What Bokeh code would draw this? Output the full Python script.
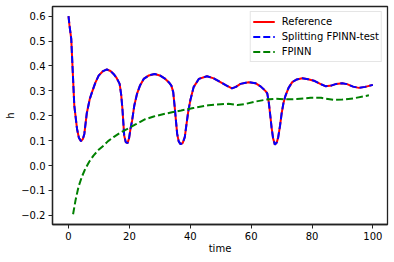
from bokeh.plotting import figure
from bokeh.models import FixedTicker, Range1d
from bokeh.embed import file_html
from bokeh.resources import INLINE

# ---- data ----
t_ref = [0, 0.3, 0.9, 1.4, 1.9, 2.8, 3.4, 4.1, 4.7, 5.2, 6.0, 7.0, 7.7, 8.8, 9.9,
         11.2, 12.6, 13.8, 14.8, 15.8, 16.8, 17.3, 17.7, 18.3, 18.8, 19.4, 19.9,
         20.4, 20.9, 21.6, 22.5, 23.5, 24.7, 26.4, 28.3, 30.0, 31.8, 33.0, 33.8,
         34.4, 34.9, 35.3, 35.7, 36.2, 36.8, 37.5, 38.2, 38.7, 39.3, 40.0, 41.1,
         42.8, 45.5, 47.7, 49.9, 51.8, 53.7, 55.0, 56.5, 59.2, 61.4, 63.1, 64.6,
         65.3, 65.8, 66.3, 66.7, 67.2, 67.8, 68.4, 68.9, 69.5, 70.0, 70.6, 71.3,
         72.3, 73.5, 75.0, 76.8, 78.7, 80.6, 82.7, 84.4, 86.5, 88.0, 89.9, 91.5,
         93.5, 95.4, 97.5, 100]
h_ref = [0.600, 0.565, 0.509, 0.375, 0.241, 0.147, 0.112, 0.098, 0.106, 0.127,
         0.210, 0.268, 0.294, 0.332, 0.361, 0.378, 0.386, 0.380, 0.368, 0.352,
         0.328, 0.285, 0.230, 0.120, 0.094, 0.090, 0.110, 0.150, 0.181, 0.240,
         0.288, 0.322, 0.348, 0.362, 0.368, 0.362, 0.348, 0.334, 0.321, 0.295,
         0.234, 0.180, 0.127, 0.097, 0.086, 0.090, 0.114, 0.160, 0.214, 0.261,
         0.315, 0.348, 0.359, 0.350, 0.335, 0.322, 0.310, 0.316, 0.328, 0.335,
         0.331, 0.318, 0.301, 0.290, 0.254, 0.200, 0.154, 0.110, 0.084, 0.092,
         0.114, 0.160, 0.208, 0.250, 0.281, 0.312, 0.335, 0.346, 0.351, 0.347,
         0.341, 0.328, 0.319, 0.322, 0.328, 0.331, 0.327, 0.317, 0.312, 0.316,
         0.324]
t_split = list(t_ref)
h_split = list(h_ref)

t_fpinn = [1.5, 2.3, 3.3, 4.4, 5.5, 6.8, 8.2, 9.8, 11.5, 13.0, 14.8, 17.0, 19.2,
           22.0, 25.2, 28.0, 31.0, 34.0, 37.0, 41.0, 46.0, 50.0, 52.5, 55.5, 58.0,
           61.4, 65.0, 68.0, 72.0, 75.0, 79.5, 83.0, 87.0, 90.0, 93.7, 98.7]
h_fpinn = [-0.196, -0.140, -0.085, -0.045, -0.013, 0.015, 0.040, 0.062, 0.080,
           0.098, 0.114, 0.132, 0.146, 0.165, 0.186, 0.197, 0.206, 0.214, 0.221,
           0.231, 0.242, 0.246, 0.248, 0.243, 0.247, 0.257, 0.265, 0.268, 0.266,
           0.267, 0.272, 0.272, 0.264, 0.265, 0.270, 0.282]

x_ticks = [0, 20, 40, 60, 80, 100]
y_ticks = [-0.2, -0.1, 0.0, 0.1, 0.2, 0.3, 0.4, 0.5, 0.6]
y_tick_labels = ["\u22120.2", "\u22120.1", "0.0", "0.1", "0.2", "0.3", "0.4", "0.5", "0.6"]

FONT = "DejaVu Sans"

p = figure(width=394, height=262, output_backend="svg", toolbar_location=None,
           x_range=Range1d(-5.26, 104.8), y_range=Range1d(-0.237, 0.639))
p.min_border_left = 52
p.min_border_right = 7
p.min_border_top = 6
p.min_border_bottom = 38
p.outline_line_color = "#222222"
p.outline_line_width = 1.3
p.outline_line_alpha = 1
p.xgrid.visible = False
p.ygrid.visible = False
p.background_fill_color = "white"
p.border_fill_color = "white"

p.line(t_ref, h_ref, line_color="#ff0000", line_width=2, legend_label="Reference")
p.line(t_split, h_split, line_color="#0000ff", line_width=2, line_dash="7 3",
       legend_label="Splitting FPINN-test")
p.line(t_fpinn, h_fpinn, line_color="#008000", line_width=2, line_dash="7 3",
       legend_label="FPINN")

for ax in (p.xaxis[0], p.yaxis[0]):
    ax.major_tick_out = 4
    ax.major_tick_in = 0
    ax.minor_tick_out = 0
    ax.minor_tick_in = 0
    ax.axis_line_color = "#222222"
    ax.axis_line_width = 1.3
    ax.major_tick_line_color = "#222222"
    ax.major_tick_line_width = 1
    ax.major_label_text_font = FONT
    ax.major_label_text_font_size = "10px"
    ax.major_label_text_color = "black"
    ax.axis_label_text_font = FONT
    ax.axis_label_text_font_size = "10px"
    ax.axis_label_text_font_style = "normal"
    ax.axis_label_text_color = "black"

p.xaxis[0].ticker = FixedTicker(ticks=x_ticks)
p.yaxis[0].ticker = FixedTicker(ticks=y_ticks)
p.yaxis[0].major_label_overrides = {v: s for v, s in zip(y_ticks, y_tick_labels)}
p.xaxis[0].axis_label = "time"
p.yaxis[0].axis_label = "h"
p.xaxis[0].major_label_standoff = 3
p.yaxis[0].major_label_standoff = 3
p.xaxis[0].axis_label_standoff = 0
p.yaxis[0].axis_label_standoff = 2

lg = p.legend[0]
lg.location = "top_right"
lg.margin = 5
lg.padding = 2
lg.spacing = 0
lg.label_height = 15
lg.glyph_height = 15
lg.glyph_width = 22
lg.label_standoff = 7
lg.label_text_font = FONT
lg.label_text_font_size = "10px"
lg.label_text_color = "black"
lg.border_line_color = "#cccccc"
lg.border_line_width = 1
lg.background_fill_color = "white"
lg.background_fill_alpha = 0.8

open("out.html", "w").write(file_html(p, INLINE))
